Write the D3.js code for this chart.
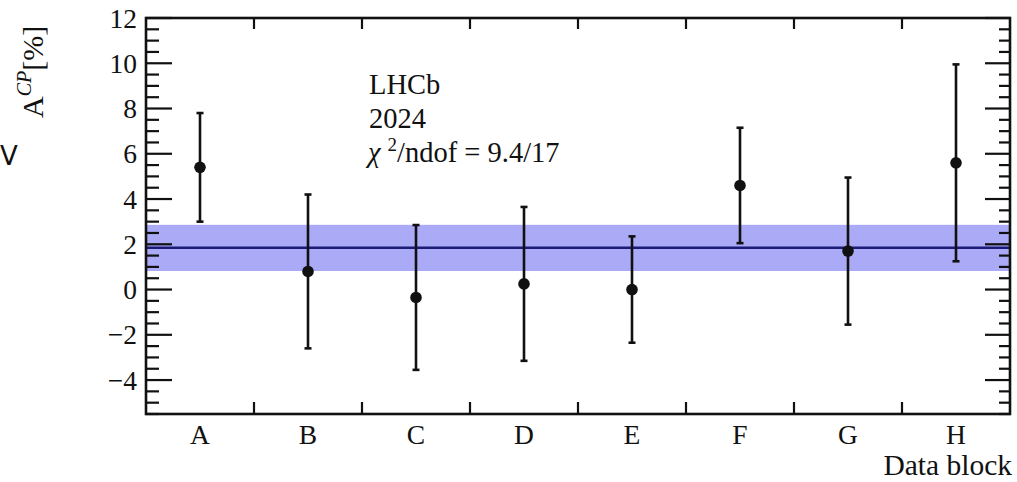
<!DOCTYPE html>
<html>
<head>
<meta charset="utf-8">
<script src="https://cdn.jsdelivr.net/npm/d3@7"></script>
<style>
  html, body { margin: 0; padding: 0; background: #fff; }
  svg { display: block; }
  text { font-family: "Liberation Serif", "Times New Roman", serif; fill: #111; }
</style>
</head>
<body>
<svg id="chart" width="1017" height="482"></svg>
<script>
// Per-block CP asymmetry measurements (in %)
const blocks = ["A", "B", "C", "D", "E", "F", "G", "H"];
const acpValues = [5.4, 0.8, -0.35, 0.25, 0.0, 4.6, 1.7, 5.6];
const acpErrors = [2.4, 3.4, 3.2, 3.4, 2.35, 2.55, 3.25, 4.35];

// Combined average and its uncertainty band
const average = [1.85];
const averageBand = [0.82, 2.86];

const yTickValues = [-4, -2, 0, 2, 4, 6, 8, 10, 12];
const legendLines = ["LHCb", "2024"];

const svg = d3.select("#chart");
const frame = { left: 146, right: 1010, top: 18, bottom: 414 };

const x = d3.scaleBand().domain(blocks).range([frame.left, frame.right]).padding(0);
const y = d3.scaleLinear().domain([-5.5, 12]).range([frame.bottom, frame.top]);

// Average band
svg.append("rect")
  .attr("x", frame.left).attr("width", frame.right - frame.left)
  .attr("y", y(averageBand[1])).attr("height", y(averageBand[0]) - y(averageBand[1]))
  .attr("fill", "#aaaaf6");

// Axis ticks, pointing inward on all four sides
const minorY = d3.range(-5.5, 12.01, 0.5);
const ticksG = svg.append("g").attr("stroke", "#111").attr("stroke-width", 2.2);
minorY.forEach(v => {
  const major = yTickValues.includes(v);
  ticksG.append("line").attr("x1", frame.left).attr("x2", frame.left + (major ? 26 : 13))
    .attr("y1", y(v)).attr("y2", y(v));
  ticksG.append("line").attr("x1", frame.right).attr("x2", frame.right - (major ? 25 : 11))
    .attr("y1", y(v)).attr("y2", y(v));
});
blocks.slice(1).forEach(b => {
  const xv = x(b);
  ticksG.append("line").attr("x1", xv).attr("x2", xv).attr("y1", frame.bottom).attr("y2", frame.bottom - 12);
  ticksG.append("line").attr("x1", xv).attr("x2", xv).attr("y1", frame.top).attr("y2", frame.top + 11);
});

// Average line
svg.append("line")
  .attr("x1", frame.left).attr("x2", frame.right)
  .attr("y1", y(average[0])).attr("y2", y(average[0]))
  .attr("stroke", "#1b1b78").attr("stroke-width", 2.6);

// Frame
svg.append("rect")
  .attr("x", frame.left).attr("y", frame.top)
  .attr("width", frame.right - frame.left).attr("height", frame.bottom - frame.top)
  .attr("fill", "none").attr("stroke", "#111").attr("stroke-width", 2.6);

// Y tick labels
svg.append("g").selectAll("text").data(yTickValues).join("text")
  .attr("x", 137).attr("y", d => y(d)).attr("dy", "0.35em")
  .attr("text-anchor", "end").attr("font-size", 27.5)
  .text(d => d < 0 ? "\u2212" + Math.abs(d) : d);

// X category labels
svg.append("g").selectAll("text").data(blocks).join("text")
  .attr("x", d => x(d) + x.bandwidth() / 2).attr("y", 444)
  .attr("text-anchor", "middle").attr("font-size", 27.5)
  .text(d => d);

svg.append("text").attr("x", 1012).attr("y", 475)
  .attr("text-anchor", "end").attr("font-size", 29.5).text("Data block");

// Y axis title
const yt = svg.append("text")
  .attr("transform", "translate(43,118) rotate(-90)")
  .attr("font-size", 30);
yt.append("tspan").text("A");
yt.append("tspan").attr("font-size", 20).attr("font-style", "italic").attr("dy", -12).text("CP");
yt.append("tspan").attr("dy", 12).text("[%]");

// Error bars and markers
const pts = svg.append("g");
blocks.forEach((b, i) => {
  const cx = x(b) + x.bandwidth() / 2;
  const lo = acpValues[i] - acpErrors[i], hi = acpValues[i] + acpErrors[i];
  pts.append("line").attr("x1", cx).attr("x2", cx).attr("y1", y(lo)).attr("y2", y(hi))
    .attr("stroke", "#111").attr("stroke-width", 2.6);
  [lo, hi].forEach(v => pts.append("line").attr("x1", cx - 3.5).attr("x2", cx + 3.5)
    .attr("y1", y(v)).attr("y2", y(v)).attr("stroke", "#111").attr("stroke-width", 2.6));
  pts.append("circle").attr("cx", cx).attr("cy", y(acpValues[i])).attr("r", 5.8).attr("fill", "#111");
});

// Experiment label and fit quality
const lg = svg.append("g").attr("font-size", 28.5);
legendLines.forEach((t, i) => lg.append("text").attr("x", 369).attr("y", 94 + i * 33.5).text(t));
const chi = lg.append("text").attr("x", 368).attr("y", 162);
chi.append("tspan").attr("font-style", "italic").text("\u03c7");
chi.append("tspan").attr("font-size", 19).attr("dy", -11).attr("dx", 7).text("2");
chi.append("tspan").attr("dy", 11).text("/ndof = 9.4/17");

// Side label
svg.append("text").attr("x", 0).attr("y", 165)
  .attr("font-size", 26).style("font-family", "'DejaVu Sans', sans-serif").text("V");
</script>
</body>
</html>
